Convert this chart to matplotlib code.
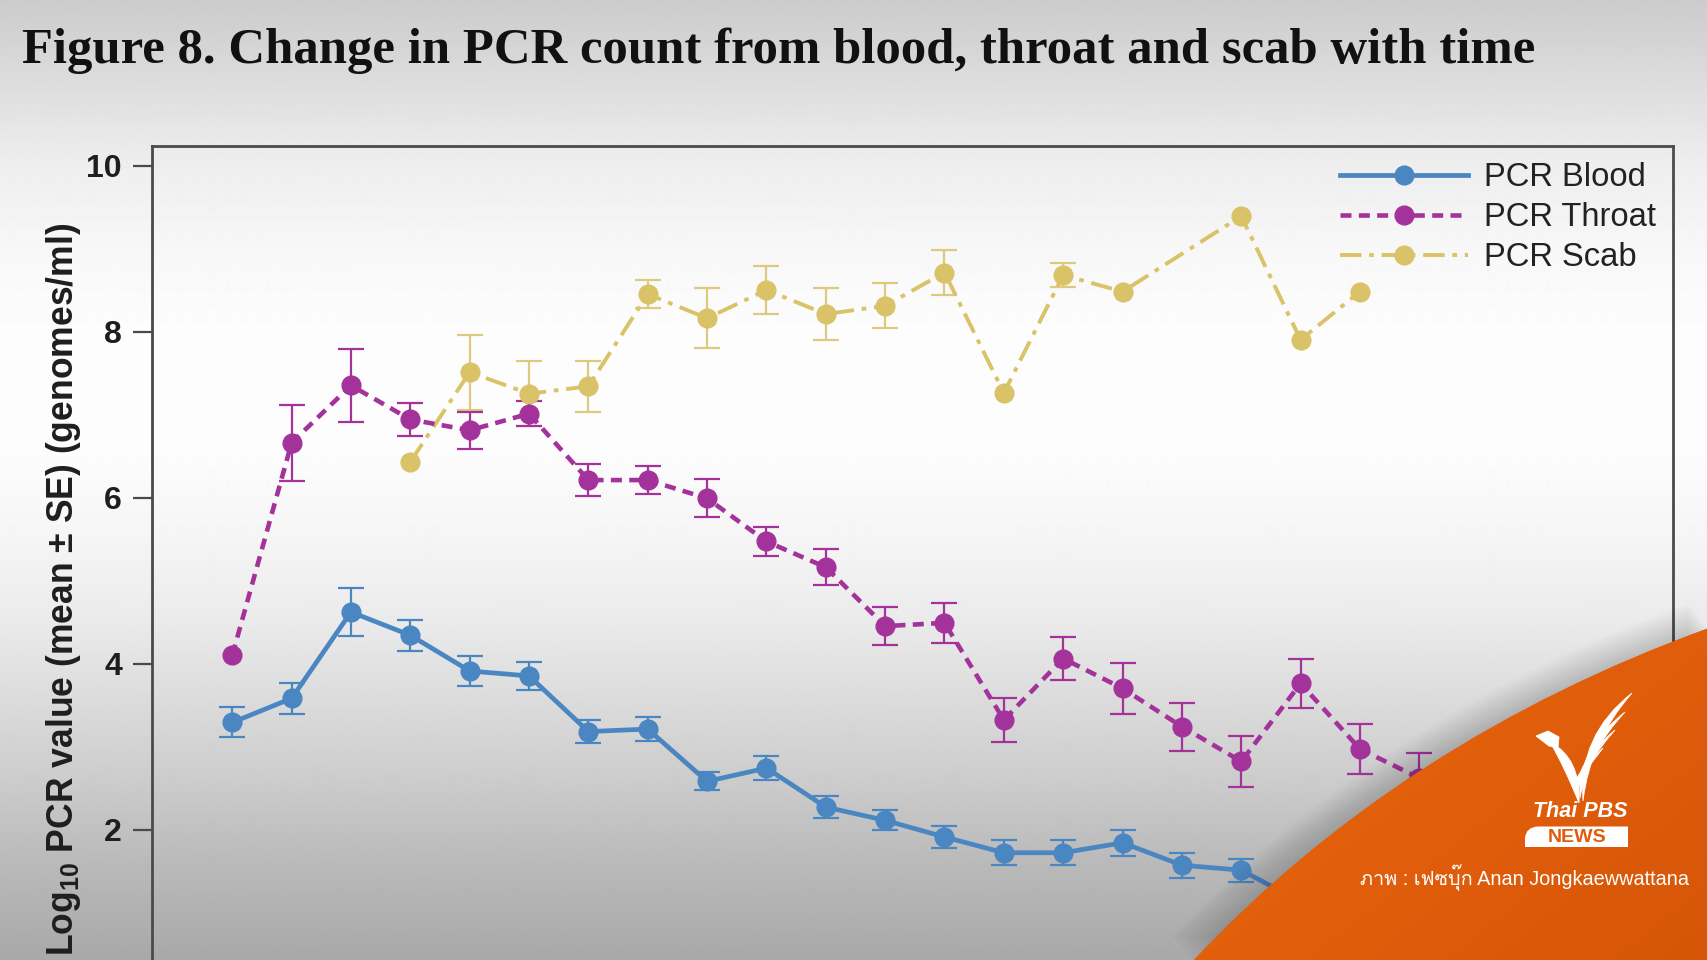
import numpy as np
import matplotlib
matplotlib.use("Agg")
import matplotlib.pyplot as plt
from matplotlib.path import Path
from matplotlib.patches import PathPatch
from matplotlib import font_manager, ft2font

# ---------------- data ----------------
title = "Figure 8. Change in PCR count from blood, throat and scab with time"
ylabel = r"Log$_{10}$ PCR value (mean ± SE) (genomes/ml)"
series_names = ["PCR Blood", "PCR Throat", "PCR Scab"]
yticks = [2, 4, 6, 8, 10]

blood_days = list(range(1, 20))
blood = [3.29, 3.58, 4.62, 4.34, 3.91, 3.85, 3.18, 3.21, 2.58, 2.74,
         2.27, 2.11, 1.91, 1.72, 1.72, 1.84, 1.57, 1.51, 1.13]
blood_se = [0.18, 0.19, 0.29, 0.19, 0.18, 0.17, 0.14, 0.14, 0.11, 0.14,
            0.13, 0.12, 0.13, 0.15, 0.15, 0.16, 0.15, 0.14, 0.14]

throat_days = list(range(1, 22))
throat = [4.10, 6.66, 7.35, 6.94, 6.81, 7.01, 6.21, 6.21, 5.99, 5.47,
          5.16, 4.45, 4.49, 3.32, 4.06, 3.70, 3.24, 2.82, 3.76, 2.97, 2.62]
throat_se = [0.0, 0.46, 0.44, 0.20, 0.22, 0.15, 0.19, 0.17, 0.23, 0.18,
             0.22, 0.23, 0.24, 0.27, 0.26, 0.31, 0.29, 0.31, 0.30, 0.30, 0.30]

scab_days = [4, 5, 6, 7, 8, 9, 10, 11, 12, 13, 14, 15, 16, 18, 19, 20]
scab = [6.43, 7.51, 7.25, 7.34, 8.45, 8.16, 8.50, 8.21, 8.31, 8.71,
        7.26, 8.68, 8.48, 9.39, 7.90, 8.48]
scab_se = [0.0, 0.45, 0.39, 0.31, 0.17, 0.36, 0.29, 0.31, 0.27, 0.27,
           0.0, 0.14, 0.0, 0.0, 0.0, 0.0]

caption = "ภาพ : เฟซบุ๊ก Anan Jongkaewwattana"

# ---------------- styling ----------------
W, H = 1707, 960
C_BLOOD = "#4a86c2"
C_THROAT = "#a3339b"
C_SCAB = "#d9c267"
ORANGE = "#e25c0b"

plt.rcParams["font.family"] = ["Liberation Sans", "DejaVu Sans"]
plt.rcParams["mathtext.fontset"] = "custom"
plt.rcParams["mathtext.rm"] = "Liberation Sans:bold"
plt.rcParams["mathtext.bf"] = "Liberation Sans:bold"
plt.rcParams["mathtext.it"] = "Liberation Sans:bold"

fig = plt.figure(figsize=(W / 100, H / 100), dpi=100)

# background vignette (screenshot shading)
bg = fig.add_axes([0, 0, 1, 1], zorder=-10)
stops_y = [0, 40, 100, 160, 250, 330, 450, 540, 620, 700, 780, 860, 960]
stops_g = [0.80, 0.83, 0.88, 0.93, 0.97, 0.99, 0.99, 0.96, 0.92, 0.86, 0.80, 0.73, 0.66]
yy = np.arange(H)
col = np.interp(yy, stops_y, stops_g)
img = np.repeat(col[:, None], 4, axis=1)
bg.imshow(img, cmap="gray", vmin=0, vmax=1, extent=[0, W, H, 0], aspect="auto",
          interpolation="bilinear")
bg.set_xlim(0, W)
bg.set_ylim(H, 0)
bg.axis("off")

# main axes, positioned so that the bottom is cropped like the screenshot
px_per_unit = 83.0
top_px = 146.0
ylim = (-0.4, 10.235)
ax_h = (ylim[1] - ylim[0]) * px_per_unit
left_px, right_px = 152.4, 1673.0
ax = fig.add_axes([left_px / W, 1 - (top_px + ax_h) / H, (right_px - left_px) / W, ax_h / H])
ax.set_facecolor("none")
first_px, step_px = 232.3, 59.35
ax.set_xlim(1 - (first_px - left_px) / step_px, 1 + (right_px - first_px) / step_px)
ax.set_ylim(*ylim)

for s in ax.spines.values():
    s.set_linewidth(2.0)
    s.set_color("#4a4a4a")
ax.set_yticks(yticks)
ax.set_yticklabels([str(v) for v in yticks])
ax.tick_params(axis="y", length=14, width=1.6, pad=8, labelsize=23, colors="#4a4a4a",
               labelcolor="#1e1e1e")
for lab in ax.get_yticklabels():
    lab.set_fontweight("bold")
ax.set_xticks(throat_days)
ax.tick_params(axis="x", length=14, width=1.6, labelbottom=False)


def err(ax, x, y, se, color):
    xs = [a for a, s in zip(x, se) if s > 0]
    ys = [b for b, s in zip(y, se) if s > 0]
    ss = [s for s in se if s > 0]
    ax.errorbar(xs, ys, yerr=ss, fmt="none", ecolor=color, elinewidth=1.6,
                capsize=9.5, capthick=1.6, zorder=2)


err(ax, scab_days, scab, scab_se, "#dccb7e")
err(ax, throat_days, throat, throat_se, C_THROAT)
err(ax, blood_days, blood, blood_se, C_BLOOD)

l_scab, = ax.plot(scab_days, scab, color=C_SCAB, lw=2.8, dashes=(5.5, 2.0, 1.2, 2.0),
                  marker="o", ms=13.5, mec=C_SCAB, mfc=C_SCAB, zorder=3)
l_throat, = ax.plot(throat_days, throat, color=C_THROAT, lw=3.3, dashes=(2.4, 1.6),
                    marker="o", ms=13.5, mec=C_THROAT, mfc=C_THROAT, zorder=4)
l_blood, = ax.plot(blood_days, blood, color=C_BLOOD, lw=3.4, ls="-",
                   marker="o", ms=13.5, mec=C_BLOOD, mfc=C_BLOOD, zorder=5)

leg = fig.legend([l_blood, l_throat, l_scab], series_names, loc="upper left",
                 bbox_to_anchor=(1340 / W, 1 - 162 / H), frameon=False,
                 borderpad=0, borderaxespad=0, handlelength=3.9, handletextpad=0.5,
                 labelspacing=0.28, numpoints=1,
                 prop={"family": "Liberation Sans", "size": 23.6})
for t in leg.get_texts():
    t.set_color("#222222")

# title, fitted to the width seen in the screenshot
ttl = fig.text(21.8 / W, 1 - 63 / H, title, family="Liberation Serif", weight="bold",
               fontsize=38, color="#111111", ha="left", va="baseline")
fig.canvas.draw()
bb = ttl.get_window_extent()
ttl.set_fontsize(38 * 1511 / bb.width)

fig.text(64 / W, 1 - 223 / H, ylabel, rotation=90, ha="center", va="top",
         fontsize=25.6, weight="bold", color="#1e1e1e")

# ---------------- Thai PBS overlay ----------------
ov = fig.add_axes([0, 0, 1, 1], zorder=20)
ov.set_xlim(0, W)
ov.set_ylim(H, 0)
ov.axis("off")
ov.patch.set_alpha(0)

P0, P1, P2 = (1192, 962), (1400, 740), (1709, 628)
verts = [P0, P1, P2, (1709, 962), P0]
codes = [Path.MOVETO, Path.CURVE3, Path.CURVE3, Path.LINETO, Path.CLOSEPOLY]
opath = Path(verts, codes)

# soft shadow along the curved edge
for k in range(1, 14):
    sh = Path([(x - 1.6 * k, y - 1.9 * k) for x, y in verts], codes)
    ov.add_patch(PathPatch(sh, fc="black", ec="none", alpha=0.013, zorder=1))

opatch = PathPatch(opath, fc=ORANGE, ec="none", zorder=2)
ov.add_patch(opatch)
gx, gy = np.meshgrid(np.linspace(0, 1, 60), np.linspace(0, 1, 40))
g = np.clip(0.55 * gx + 0.45 * gy, 0, 1)[..., None]
c1 = np.array([238, 104, 16]) / 255
c2 = np.array([214, 86, 8]) / 255
ogr = c1 * (1 - g) + c2 * g
im = ov.imshow(ogr, extent=[1150, W, H, 600], aspect="auto", zorder=3,
               interpolation="bilinear")
im.set_clip_path(opatch)


def crescent(base, end, c_out, c_in):
    p = Path([base, c_out, end, c_in, base, base],
             [Path.MOVETO, Path.CURVE3, Path.CURVE3, Path.CURVE3, Path.CURVE3,
              Path.CLOSEPOLY])
    ov.add_patch(PathPatch(p, fc="white", ec="white", lw=0.6, zorder=5))


# stylised bird logo (swooshes + head)
crescent((1583, 801), (1632, 693), (1578, 735), (1590, 741))
crescent((1580, 798), (1625, 712), (1576, 750), (1587, 753))
crescent((1577, 794), (1615, 730), (1574, 764), (1584, 765))
crescent((1574, 790), (1603, 748), (1572, 776), (1581, 776))
crescent((1579, 803), (1550, 742), (1581, 758), (1565, 768))
ov.add_patch(PathPatch(Path([(1536, 736), (1548, 731), (1559, 737), (1558, 748),
                             (1549, 746), (1536, 736)]),
                       fc="white", ec="white", lw=0.6, zorder=5))

ov.text(1580, 811.5, "Thai PBS", color="white", fontsize=15.5, weight="bold",
        style="italic", ha="center", va="center", family="Liberation Sans", zorder=6)
news_box = Path([(1525, 847), (1525, 838), (1526, 827), (1538, 826.5), (1628, 826.5),
                 (1628, 847), (1525, 847)],
                [Path.MOVETO, Path.LINETO, Path.CURVE3, Path.CURVE3, Path.LINETO,
                 Path.LINETO, Path.CLOSEPOLY])
ov.add_patch(PathPatch(news_box, fc="white", ec="none", zorder=6))
ov.text(1577.5, 837, "NEWS", color=ORANGE, fontsize=14, weight="bold",
        ha="center", va="center", family="Liberation Sans", zorder=7)


def font_with(ch):
    for f in font_manager.fontManager.ttflist:
        try:
            if ord(ch) in ft2font.FT2Font(f.fname).get_charmap():
                return f.name
        except Exception:
            pass
    return None


thai = font_with("ภ")
if thai:
    ov.text(1689, 878, caption, color="white", fontsize=14.3, ha="right", va="center",
            family=["Liberation Sans", thai], zorder=6)
else:
    ov.text(1689, 878, caption.split(" ", 3)[-1], color="white", fontsize=14.3,
            ha="right", va="center", family="Liberation Sans", zorder=6)

fig.savefig("out.png", dpi=100)
